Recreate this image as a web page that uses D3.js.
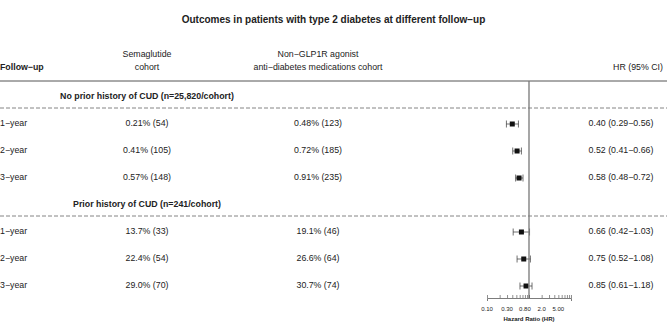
<!DOCTYPE html>
<html>
<head>
<meta charset="utf-8">
<script src="https://cdn.jsdelivr.net/npm/d3@7"></script>
<style>
  body { margin: 0; background: #fff; }
  text { font-family: "Liberation Sans", Arial, sans-serif; fill: #222; }
</style>
</head>
<body>
<div id="chart"></div>
<script>
// data
let followUp = ["1\u2212year", "2\u2212year", "3\u2212year"];
let groupLabels = ["No prior history of CUD (n=25,820/cohort)", "Prior history of CUD (n=241/cohort)"];
let semaPct = [[0.21, 0.41, 0.57], [13.7, 22.4, 29.0]];
let semaN = [[54, 105, 148], [33, 54, 70]];
let otherPct = [[0.48, 0.72, 0.91], [19.1, 26.6, 30.7]];
let otherN = [[123, 185, 235], [46, 64, 74]];
let hr = [[0.40, 0.52, 0.58], [0.66, 0.75, 0.85]];
let hrLow = [[0.29, 0.41, 0.48], [0.42, 0.52, 0.61]];
let hrHigh = [[0.56, 0.66, 0.72], [1.03, 1.08, 1.18]];
let tickValues = [0.10, 0.30, 0.80, 2.0, 5.00];
let tickLabels = ["0.10", "0.30", "0.80", "2.0", "5.00"];

let width = 667, height = 330;

let svg = d3.select("#chart").append("svg")
    .attr("width", width)
    .attr("height", height);

// rows: group heading + 3 rows, twice
let rows = [];
groupLabels.forEach((g, gi) => {
    rows.push({type: "group", key: "g" + gi, label: g});
    followUp.forEach((f, i) => {
        rows.push({
            type: "row", key: "r" + gi + i, label: f,
            sema: semaPct[gi][i].toFixed(gi === 0 ? 2 : 1) + "% (" + semaN[gi][i] + ")",
            other: otherPct[gi][i].toFixed(gi === 0 ? 2 : 1) + "% (" + otherN[gi][i] + ")",
            hr: hr[gi][i], lo: hrLow[gi][i], hi: hrHigh[gi][i]
        });
    });
});

let y = d3.scalePoint()
    .domain(rows.map(d => d.key))
    .range([97, 286]);

let colX = {follow: 0, sema: 147, other: 318, hr: 621, hrHead: 638};

let x = d3.scaleLog()
    .domain([0.1, 10])
    .range([487, 571]);

let fs = 8.8;

// title
svg.append("text")
    .attr("x", width / 2)
    .attr("y", 20)
    .attr("text-anchor", "middle")
    .attr("dominant-baseline", "middle")
    .style("font-size", "10px")
    .style("font-weight", "bold")
    .text("Outcomes in patients with type 2 diabetes at different follow\u2212up");

// column headers
let head = svg.append("g");
head.append("text").attr("x", colX.follow).attr("y", 68)
    .style("font-weight", "bold").text("Follow\u2212up");
head.append("text").attr("x", colX.sema).attr("y", 55).text("Semaglutide");
head.append("text").attr("x", colX.sema).attr("y", 68).text("cohort");
head.append("text").attr("x", colX.other).attr("y", 55).text("Non\u2212GLP1R agonist");
head.append("text").attr("x", colX.other).attr("y", 68).text("anti\u2212diabetes medications cohort");
head.append("text").attr("x", colX.hrHead).attr("y", 68).text("HR (95% CI)");
head.selectAll("text")
    .attr("text-anchor", (d, i) => i === 0 ? "start" : "middle")
    .attr("dominant-baseline", "middle")
    .style("font-size", fs + "px");

svg.append("line")
    .attr("x1", 0).attr("x2", width)
    .attr("y1", 81).attr("y2", 81)
    .attr("stroke", "#555").attr("stroke-width", 1);

// group headings and dashed lines
let groups = rows.filter(d => d.type === "group");
svg.selectAll(".grp")
    .data(groups)
    .enter().append("text")
    .attr("class", "grp")
    .attr("x", colX.sema)
    .attr("y", d => y(d.key))
    .attr("text-anchor", "middle")
    .attr("dominant-baseline", "middle")
    .style("font-size", fs + "px")
    .style("font-weight", "bold")
    .text(d => d.label);

svg.selectAll(".dash")
    .data(groups)
    .enter().append("line")
    .attr("class", "dash")
    .attr("x1", 0).attr("x2", width)
    .attr("y1", d => y(d.key) + 11)
    .attr("y2", d => y(d.key) + 11)
    .attr("stroke", "#666")
    .attr("stroke-width", 0.8)
    .attr("stroke-dasharray", "4,2");

// table rows
let dataRows = rows.filter(d => d.type === "row");
let rowG = svg.selectAll(".row")
    .data(dataRows)
    .enter().append("g")
    .attr("class", "row")
    .attr("transform", d => "translate(0," + y(d.key) + ")");

rowG.append("text").attr("x", colX.follow).attr("text-anchor", "start").text(d => d.label);
rowG.append("text").attr("x", colX.sema).attr("text-anchor", "middle").text(d => d.sema);
rowG.append("text").attr("x", colX.other).attr("text-anchor", "middle").text(d => d.other);
rowG.append("text").attr("x", colX.hr).attr("text-anchor", "middle")
    .text(d => d.hr.toFixed(2) + " (" + d.lo.toFixed(2) + "\u2212" + d.hi.toFixed(2) + ")");
rowG.selectAll("text")
    .attr("dominant-baseline", "middle")
    .style("font-size", fs + "px");

// reference line at HR = 1
svg.append("line")
    .attr("x1", x(1)).attr("x2", x(1))
    .attr("y1", 81).attr("y2", 298)
    .attr("stroke", "#777").attr("stroke-width", 1.3);

// CI whiskers
rowG.append("line")
    .attr("x1", d => x(d.lo)).attr("x2", d => x(d.hi))
    .attr("stroke", "#333").attr("stroke-width", 0.7);
rowG.selectAll(".cap")
    .data(d => [d.lo, d.hi])
    .enter().append("line")
    .attr("class", "cap")
    .attr("x1", v => x(v)).attr("x2", v => x(v))
    .attr("y1", -3.5).attr("y2", 3.5)
    .attr("stroke", "#333").attr("stroke-width", 0.7);
rowG.append("rect")
    .attr("x", d => x(d.hr) - 2.5)
    .attr("y", -2.5)
    .attr("width", 5).attr("height", 5)
    .attr("fill", "#111");

// axis
let minorTicks = d3.range(1, 10).map(v => v / 10)
    .concat(d3.range(1, 11));
let xAxis = d3.axisBottom(x)
    .tickValues(minorTicks)
    .tickSize(3)
    .tickFormat("");
let axisG = svg.append("g")
    .attr("transform", "translate(0,298)")
    .call(xAxis);
axisG.select(".domain").attr("stroke", "#444").attr("stroke-width", 0.7);
axisG.selectAll(".tick line").attr("stroke", "#444").attr("stroke-width", 0.6)
    .attr("y1", -3).attr("y2", 0);

svg.selectAll(".tlab")
    .data(tickValues)
    .enter().append("text")
    .attr("class", "tlab")
    .attr("x", d => x(d))
    .attr("y", 309)
    .attr("text-anchor", "middle")
    .attr("dominant-baseline", "middle")
    .style("font-size", "6px")
    .text((d, i) => tickLabels[i]);

svg.append("text")
    .attr("x", x(1))
    .attr("y", 319)
    .attr("text-anchor", "middle")
    .attr("dominant-baseline", "middle")
    .style("font-size", "6px")
    .style("font-weight", "bold")
    .text("Hazard Ratio (HR)");
</script>
</body>
</html>
